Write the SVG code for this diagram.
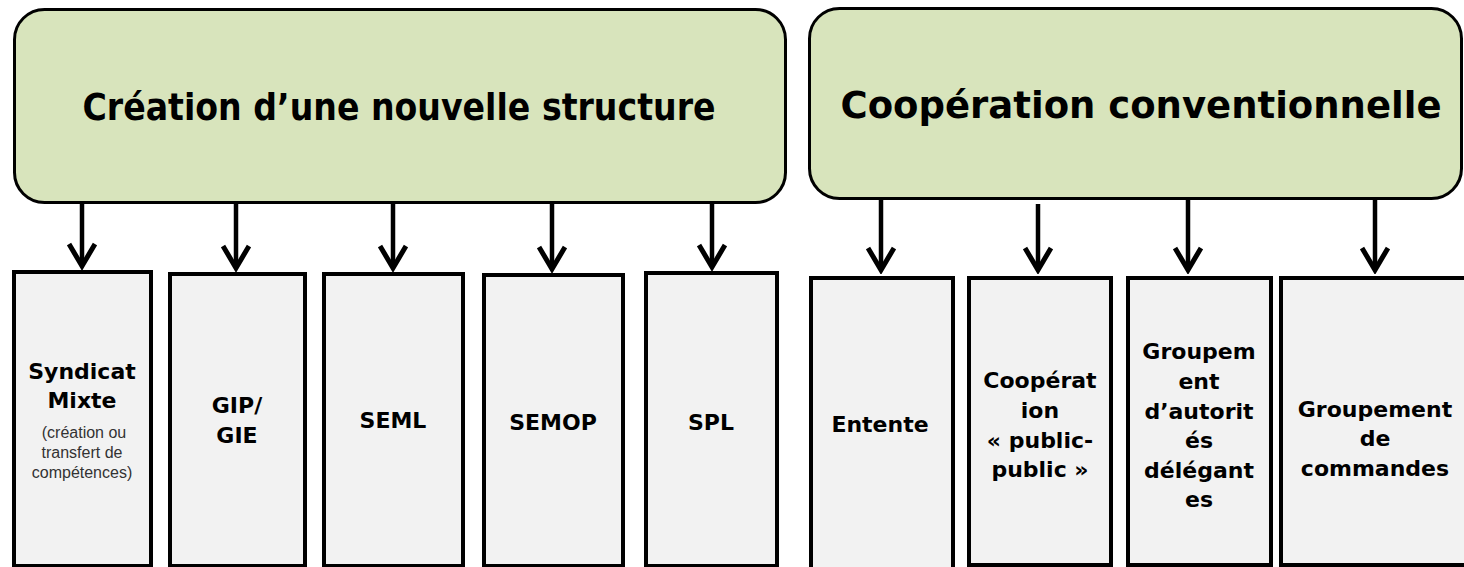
<svg xmlns="http://www.w3.org/2000/svg" width="1464" height="567" viewBox="0 0 1464 567">
  <style>
    .hdr { fill: #d8e4bc; stroke: #000; stroke-width: 3; }
    .box { fill: #f2f2f2; stroke: #000; stroke-width: 4; }
    .title { font-family: "DejaVu Sans", "Liberation Sans", sans-serif; font-weight: bold; font-size: 38px; fill: #000; text-anchor: middle; }
    .lbl { font-family: "DejaVu Sans", "Liberation Sans", sans-serif; font-weight: bold; font-size: 22px; fill: #000; text-anchor: middle; }
    .small { font-family: "Liberation Sans", Arial, sans-serif; font-size: 16px; fill: #333; text-anchor: middle; }
    .conn { stroke: #000; stroke-width: 4.5; fill: none; marker-end: url(#arr); }
  </style>
  <defs>
    <marker id="arr" markerUnits="userSpaceOnUse" viewBox="0 0 30 30" markerWidth="30" markerHeight="30" refX="26" refY="15" orient="auto">
      <path d="M4,2 L26,15 L4,28" fill="none" stroke="#000" stroke-width="5" stroke-linejoin="miter"/>
    </marker>
  </defs>
  <rect width="1464" height="567" fill="#fff"/>

  <g id="connectors">
    <line class="conn" x1="82" y1="203" x2="82" y2="266"/>
    <line class="conn" x1="236" y1="203" x2="236" y2="268"/>
    <line class="conn" x1="393" y1="203" x2="393" y2="268"/>
    <line class="conn" x1="552" y1="203" x2="552" y2="269"/>
    <line class="conn" x1="712" y1="203" x2="712" y2="267"/>
    <line class="conn" x1="881" y1="199" x2="881" y2="270"/>
    <line class="conn" x1="1038" y1="204" x2="1038" y2="270"/>
    <line class="conn" x1="1188" y1="199" x2="1188" y2="270"/>
    <line class="conn" x1="1375" y1="199" x2="1375" y2="270"/>
  </g>

  <g id="creation">
    <rect class="hdr" x="14.5" y="9.5" width="771" height="193" rx="30"/>
    <text class="title" x="399" y="120" textLength="633" lengthAdjust="spacingAndGlyphs">Création d’une nouvelle structure</text>
  </g>
  <g id="cooperation">
    <rect class="hdr" x="809.5" y="8.5" width="652" height="190" rx="30"/>
    <text class="title" x="1141" y="118" textLength="601" lengthAdjust="spacingAndGlyphs">Coopération conventionnelle</text>
  </g>

  <g id="syndicat">
    <rect class="box" x="14" y="272" width="137" height="294"/>
    <text class="lbl" x="82" y="379">Syndicat</text>
    <text class="lbl" x="82" y="408">Mixte</text>
    <text class="small" x="84" y="438">(création ou</text>
    <text class="small" x="82" y="458">transfert de</text>
    <text class="small" x="82" y="478">compétences)</text>
  </g>
  <g id="gip">
    <rect class="box" x="170" y="274" width="135" height="292"/>
    <text class="lbl" x="237" y="413">GIP/</text>
    <text class="lbl" x="237" y="443">GIE</text>
  </g>
  <g id="seml">
    <rect class="box" x="324" y="274" width="139" height="292"/>
    <text class="lbl" x="393" y="428">SEML</text>
  </g>
  <g id="semop">
    <rect class="box" x="484" y="275" width="139" height="291"/>
    <text class="lbl" x="553" y="430">SEMOP</text>
  </g>
  <g id="spl">
    <rect class="box" x="646" y="273" width="131" height="293"/>
    <text class="lbl" x="711" y="430">SPL</text>
  </g>

  <g id="entente">
    <rect class="box" x="811" y="278" width="142" height="310"/>
    <text class="lbl" x="880" y="432">Entente</text>
  </g>
  <g id="cooperation-public">
    <rect class="box" x="969" y="278" width="142" height="287"/>
    <text class="lbl" x="1040" y="388">Coopérat</text>
    <text class="lbl" x="1040" y="418">ion</text>
    <text class="lbl" x="1040" y="448">« public-</text>
    <text class="lbl" x="1040" y="477">public »</text>
  </g>
  <g id="groupement-autorites">
    <rect class="box" x="1128" y="278" width="143" height="287"/>
    <text class="lbl" x="1199" y="359">Groupem</text>
    <text class="lbl" x="1199" y="389">ent</text>
    <text class="lbl" x="1199" y="419">d’autorit</text>
    <text class="lbl" x="1199" y="448">és</text>
    <text class="lbl" x="1199" y="478">délégant</text>
    <text class="lbl" x="1199" y="507">es</text>
  </g>
  <g id="groupement-commandes">
    <rect class="box" x="1281" y="278" width="200" height="287"/>
    <text class="lbl" x="1375" y="417">Groupement</text>
    <text class="lbl" x="1375" y="446">de</text>
    <text class="lbl" x="1375" y="476">commandes</text>
  </g>
</svg>
